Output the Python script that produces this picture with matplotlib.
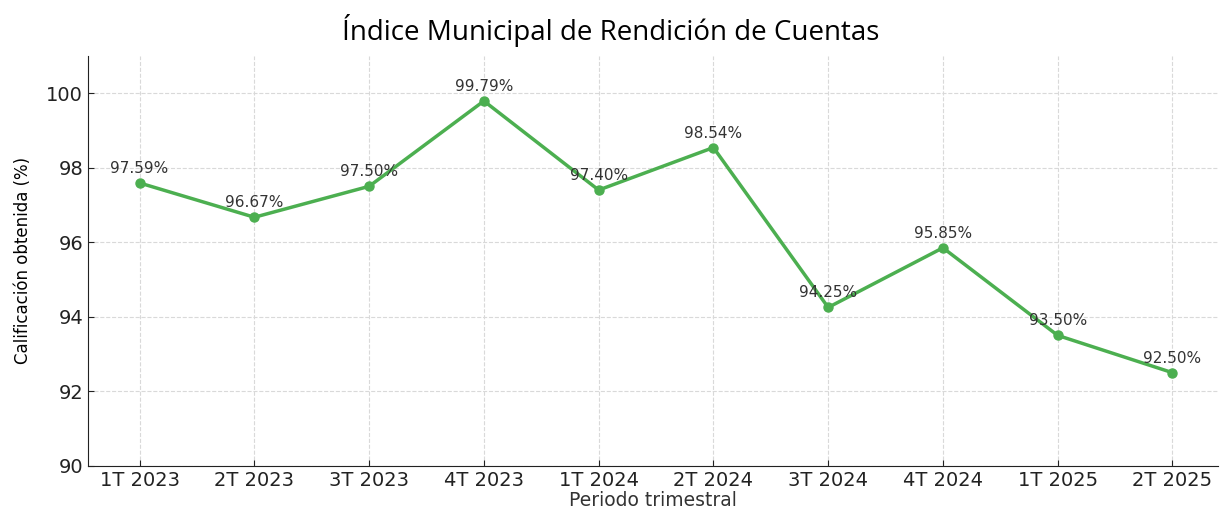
import matplotlib.pyplot as plt

periods = ["1T 2023", "2T 2023", "3T 2023", "4T 2023", "1T 2024",
           "2T 2024", "3T 2024", "4T 2024", "1T 2025", "2T 2025"]
scores = [97.59, 96.67, 97.50, 99.79, 97.40, 98.54, 94.25, 95.85, 93.50, 92.50]
yticks = [90, 92, 94, 96, 98, 100]

fig = plt.figure(figsize=(12.22, 5.08), dpi=100)
ax = fig.add_axes([0.072, 0.083, 0.925, 0.807])

x = list(range(len(periods)))
ax.plot(x, scores, "o-", color="#4caf50", lw=2.5, ms=6.5)

for xi, yi in zip(x, scores):
    ax.annotate(f"{yi:.2f}%", (xi, yi), xytext=(0, 5), textcoords="offset points",
                ha="center", va="bottom", fontsize=11, color="#333333")

ax.set_xticks(x)
ax.set_xticklabels(periods)
ax.set_yticks(yticks)
ax.set_xlim(-0.45, 9.4)
ax.set_ylim(90, 101)
ax.tick_params(direction="in", labelsize=14, length=4, colors="#222222")
ax.grid(True, linestyle="--", color="#d9d9d9", linewidth=0.8)
ax.spines["top"].set_visible(False)
ax.spines["right"].set_visible(False)
ax.spines["left"].set_color("#222222")
ax.spines["bottom"].set_color("#222222")

ax.set_xlabel("Periodo trimestral", fontsize=13.5, labelpad=1, color="#333333")
ax.set_ylabel("Calificación obtenida (%)", fontsize=12, family="Liberation Sans Narrow",
              labelpad=10)
fig.text(0.5, 0.94, "Índice Municipal de Rendición de Cuentas", ha="center", va="center",
         fontsize=20, family="Open Sans")

fig.savefig("out.png", dpi=100)
